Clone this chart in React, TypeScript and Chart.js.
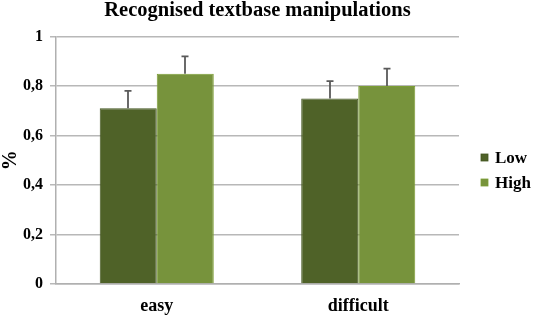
import React, { useEffect, useRef } from "react";
import { Chart, registerables } from "chart.js";

Chart.register(...registerables);

const categories = ["easy", "difficult"];
const seriesNames = ["Low", "High"];
const lowValues = [0.71, 0.75];
const highValues = [0.85, 0.8];
const lowErrTop = [0.78, 0.82];
const highErrTop = [0.92, 0.87];
const yTicks = [0, 0.2, 0.4, 0.6, 0.8, 1];

const SERIF = "'Liberation Serif', 'Times New Roman', serif";

const errorBarPlugin = {
  id: "errorBars",
  afterDatasetsDraw(chart: any) {
    const ctx = chart.ctx;
    const yScale = chart.scales.y;
    const errs = [lowErrTop, highErrTop];
    ctx.save();
    ctx.strokeStyle = "#5a5a5a";
    ctx.lineWidth = 1.8;
    chart.data.datasets.forEach((ds: any, di: number) => {
      const meta = chart.getDatasetMeta(di);
      meta.data.forEach((bar: any, i: number) => {
        const x = Math.round(bar.x);
        const yTop = yScale.getPixelForValue(errs[di][i]);
        const yBar = yScale.getPixelForValue(ds.data[i]);
        ctx.beginPath();
        ctx.moveTo(x, yBar);
        ctx.lineTo(x, yTop);
        ctx.moveTo(x - 3.5, yTop);
        ctx.lineTo(x + 3.5, yTop);
        ctx.stroke();
      });
    });
    ctx.restore();
  },
};

const customLegendPlugin = {
  id: "customLegend",
  afterDraw(chart: any) {
    const ctx = chart.ctx;
    const area = chart.chartArea;
    const boxX = area.right + 22;
    const startY = area.top + 121;
    const step = 25;
    ctx.save();
    ctx.font = `bold 17px ${SERIF}`;
    ctx.textBaseline = "middle";
    ctx.textAlign = "left";
    chart.data.datasets.forEach((ds: any, i: number) => {
      const cy = startY + i * step;
      ctx.fillStyle = ds.backgroundColor;
      ctx.fillRect(boxX, cy - 3.5, 7, 7);
      ctx.strokeStyle = ds.borderColor;
      ctx.lineWidth = 0.8;
      ctx.strokeRect(boxX, cy - 3.5, 7, 7);
      ctx.fillStyle = "#000";
      ctx.fillText(ds.label, boxX + 14, cy + 1);
    });
    ctx.restore();
  },
};

export default function App() {
  const ref = useRef<HTMLCanvasElement>(null);
  useEffect(() => {
    if (!ref.current) return;
    const chart = new Chart(ref.current, {
      type: "bar",
      data: {
        labels: categories,
        datasets: [
          {
            label: seriesNames[0],
            data: lowValues,
            backgroundColor: "#4F6228",
            borderColor: "#435520",
            borderWidth: 1,
            barPercentage: 1,
            categoryPercentage: 0.566,
          },
          {
            label: seriesNames[1],
            data: highValues,
            backgroundColor: "#77933C",
            borderColor: "#7c9e34",
            borderWidth: 1,
            barPercentage: 1,
            categoryPercentage: 0.566,
          },
        ],
      },
      options: {
        animation: false,
        responsive: false,
        maintainAspectRatio: false,
        layout: { padding: { left: 0, right: 77, top: 0, bottom: 0 } },
        plugins: {
          title: {
            display: true,
            fullSize: false,
            text: "Recognised textbase manipulations",
            color: "#000",
            font: { family: SERIF, size: 20.5, weight: "bold", lineHeight: 1 },
            padding: { top: 0, bottom: 16 },
          },
          legend: { display: false },
          tooltip: { enabled: false },
        },
        scales: {
          x: {
            grid: { display: false, drawTicks: false },
            border: { display: true, color: "#b0b0b0", width: 1.5 },
            ticks: {
              color: "#000",
              font: { family: SERIF, size: 18, weight: "bold" },
              padding: 12,
            },
            afterFit(scale: any) {
              scale.height = 34;
            },
          },
          y: {
            min: 0,
            max: 1,
            afterBuildTicks(axis: any) {
              axis.ticks = yTicks.map((v) => ({ value: v }));
            },
            ticks: {
              color: "#000",
              font: { family: SERIF, size: 16, weight: "bold" },
              padding: 7,
              callback: (v: any) => String(v).replace(".", ","),
            },
            grid: { color: "#b8b8b8", lineWidth: 1.5, tickLength: 6 },
            border: { display: true, color: "#b0b0b0", width: 1.5 },
            title: {
              display: true,
              text: "%",
              color: "#000",
              font: { family: SERIF, size: 20, weight: "bold", lineHeight: 1 },
              padding: { top: 1, bottom: 0 },
            },
            afterFit(scale: any) {
              scale.width = 56;
            },
          },
        },
      },
      plugins: [errorBarPlugin, customLegendPlugin],
    });
    return () => chart.destroy();
  }, []);
  return (
    <div style={{ position: "absolute", left: 0, top: 0, width: 536, height: 318, background: "#fff" }}>
      <canvas ref={ref} width={536} height={318} style={{ width: 536, height: 318, display: "block" }} />
    </div>
  );
}
